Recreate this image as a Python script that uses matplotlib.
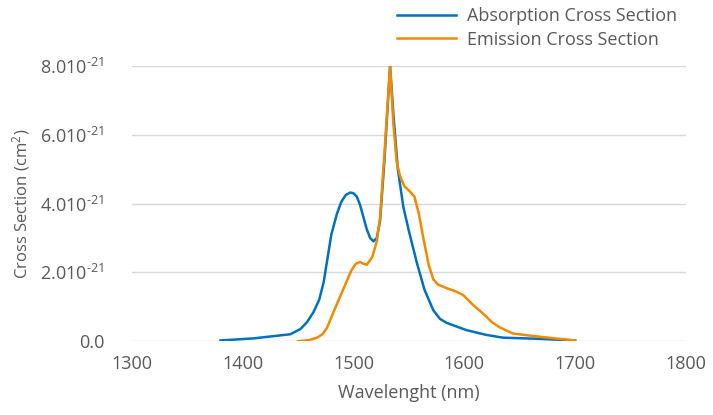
import matplotlib
matplotlib.use('Agg')
import matplotlib.pyplot as plt
import numpy as np

# wavelength (nm) / cross section (1e-21 cm^2)
abs_wl = [1380, 1410, 1443, 1452, 1458, 1464, 1469, 1473, 1476, 1480, 1485, 1489, 1493, 1497, 1500, 1503, 1506, 1509,
          1512, 1515, 1518, 1521, 1524, 1528, 1533, 1536, 1540, 1545, 1550, 1557, 1564, 1572, 1578, 1584, 1602, 1620,
          1635, 1665, 1700]
abs_cs = [0.02, 0.08, 0.2, 0.35, 0.55, 0.85, 1.2, 1.7, 2.3, 3.1, 3.7, 4.05, 4.25, 4.32, 4.3, 4.2, 3.95, 3.6,
          3.25, 3.0, 2.9, 3.0, 3.5, 5.3, 8.0, 6.6, 5.0, 3.9, 3.2, 2.3, 1.5, 0.9, 0.65, 0.53, 0.32, 0.18,
          0.1, 0.07, 0.02]

emi_wl = [1450, 1460, 1467, 1472, 1476, 1482, 1488, 1494, 1498, 1502, 1506, 1509, 1512, 1517, 1521, 1524, 1528, 1533,
          1536, 1539, 1542, 1546, 1551, 1555, 1559, 1563, 1568, 1572, 1576, 1584, 1592, 1599, 1608, 1617, 1625, 1632,
          1644, 1670, 1700]
emi_cs = [0.0, 0.03, 0.1, 0.2, 0.38, 0.85, 1.3, 1.75, 2.05, 2.25, 2.3, 2.25, 2.22, 2.45, 2.9, 3.6, 5.5, 8.0,
          6.3, 5.2, 4.8, 4.5, 4.35, 4.2, 3.7, 3.0, 2.2, 1.8, 1.65, 1.54, 1.45, 1.34, 1.05, 0.8, 0.55, 0.4,
          0.22, 0.12, 0.02]

x_ticks = [1300, 1400, 1500, 1600, 1700, 1800]
y_ticks = [0, 2, 4, 6, 8]
y_labels = ['0.0'] + [f'{v:.1f}10$^{{\\text{{-21}}}}$' for v in y_ticks[1:]]

plt.rcParams['font.family'] = ['Open Sans', 'DejaVu Sans']
plt.rcParams['mathtext.fontset'] = 'custom'
plt.rcParams['mathtext.rm'] = 'Open Sans'
plt.rcParams['mathtext.it'] = 'Open Sans'
plt.rcParams['mathtext.default'] = 'regular'
txt = '#595959'

fig = plt.figure(figsize=(7.13, 4.15), dpi=100)
ax = fig.add_axes([0.185, 0.178, 0.777, 0.663])

ax.plot(abs_wl, abs_cs, color='#0070C0', lw=1.8, solid_joinstyle='round', label='Absorption Cross Section')
ax.plot(emi_wl, emi_cs, color='#F28A00', lw=1.8, solid_joinstyle='round', label='Emission Cross Section')

ax.set_xlim(1300, 1800)
ax.set_ylim(0, 8)
ax.set_xticks(x_ticks)
ax.set_yticks(y_ticks)
ax.set_yticklabels(y_labels)
ax.grid(axis='y', color='#D9D9D9', lw=1)
ax.set_axisbelow(True)
for s in ax.spines.values():
    s.set_visible(False)
ax.tick_params(length=0, labelsize=13, colors=txt)
ax.tick_params(axis='x', pad=10)
ax.tick_params(axis='y', pad=20)
ax.set_xlabel('Wavelenght (nm)', fontsize=13, color=txt, labelpad=8)
ax.set_ylabel('Cross Section (cm$^2$)', fontsize=12, color=txt, labelpad=6)

ax.legend(loc='upper left', bbox_to_anchor=(0.546, 1.0), bbox_transform=fig.transFigure,
          borderaxespad=0, frameon=False, fontsize=13, labelcolor=txt,
          handlelength=3.3, handletextpad=0.6, labelspacing=0.3)

fig.savefig('out.png', dpi=100)
